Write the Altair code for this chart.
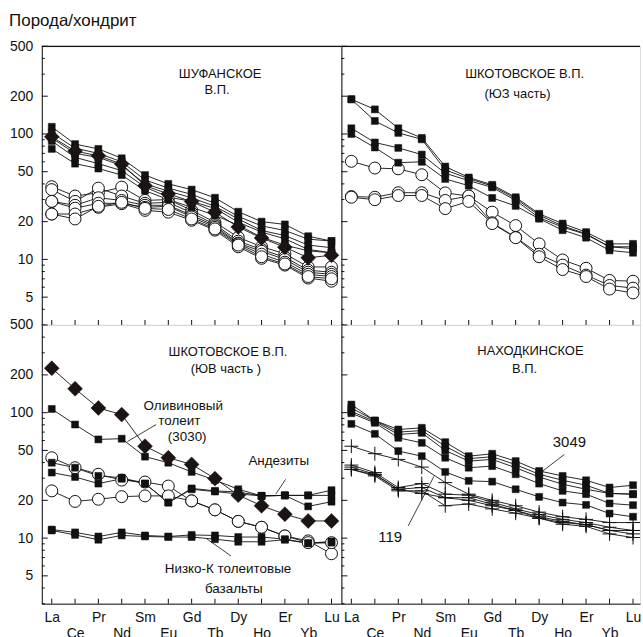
import altair as alt
import pandas as pd

# Rare-earth elements in chondrite-normalised order
REE = ["La", "Ce", "Pr", "Nd", "Sm", "Eu", "Gd", "Tb", "Dy", "Ho", "Er", "Yb", "Lu"]

# --- Шуфанское вулканическое поле ---
shuf_squares = [
    [114, 83, 76, 64, 47, 40, 36, 31, 24, 20, 19, 15.3, 14],
    [102, 77, 70, 60, 43, 37, 33, 28, 22, 18.5, 17, 14.5, 14],
    [93, 70, 65, 56, 40, 35, 31, 26.5, 21, 17, 15.5, 13, 12.4],
    [88, 65, 58, 51, 37.7, 31.4, 29, 25.5, 19.8, 16.5, 14.6, 12, 11.3],
    [76, 58, 53, 47, 35.3, 30, 26, 22.5, 18.7, 15, 13, 11.7, 11.3],
]
shuf_diamond = [95, 73, 67, 57.6, 38.7, 33.3, 28.9, 23.8, 18.1, 14.8, 12.5, 10.3, 10.8]
shuf_circles = [
    [38, 32, 34, 37.7, 29.5, 30, 24.6, 19.8, 15, 12.6, 11.1, 8.7, 8.7],
    [36, 29, 37, 32, 28, 28.5, 23.5, 19, 14, 12, 10.4, 8.2, 7.9],
    [29, 27, 31, 29.5, 27, 27, 22.5, 18.5, 13.5, 11.6, 10, 7.9, 7.6],
    [29, 25.6, 28, 28, 26, 26.5, 21.8, 18, 13.3, 11, 9.5, 7.6, 7.3],
    [23, 23, 26, 27.8, 24.6, 23.8, 20.5, 17.1, 12.6, 10.2, 9, 7.1, 6.7],
    [23, 21, 26.5, 28.5, 25.5, 25, 21, 17.5, 13, 10.5, 9.2, 7.3, 7.0],
]

# --- Шкотовское поле, юго-западная часть ---
shksw_squares = [
    [189, 157, 111, 93, 55, 45, 39.3, 31.3, 23.1, 19.3, 16.5, 13.3, 13.3],
    [189, 127, 102, 90.6, 51.7, 44, 38.5, 30.5, 22.5, 18.5, 16, 12.6, 12.6],
    [111, 85.5, 77.4, 68.5, 48.6, 42.5, 37.5, 29.5, 21.5, 18.1, 15.8, 12.6, 12.2],
    [100, 78, 59, 60, 43.8, 38.7, 30.9, 26.7, 21.1, 17.1, 14.9, 11.8, 11.3],
]
shksw_circles = [
    [60.5, 53.5, 52.7, 47.3, 33.9, 32, 23.8, 18.6, 13.3, 9.9, 8.5, 6.8, 6.7],
    [31.7, 31.3, 34, 34, 29.5, 32, 19.6, 15, 11, 9.0, 7.5, 6.2, 5.9],
    [31.3, 29.9, 32.3, 32.3, 25.4, 29, 19.3, 14.9, 10.5, 8.3, 7.3, 5.8, 5.4],
]

# --- Шкотовское поле, юго-восточная часть ---
shkse_diamond = [226, 155, 109, 96.5, 54, 43.7, 38.7, 29.8, 22, 18.1, 15.5, 13.7, 13.7]
shkse_olivine = [107, 80.4, 61.2, 62, 44.6, 39.9, 33.7, 29.0, 24.5, 21.7, 21.9, 17.9, 19.5]
shkse_andesites = [
    [39.9, 36.4, 31.3, 30.3, 27.2, 19.2, 24.9, 23.8, 23.3, 21.7, 21.9, 21.9, 24.1],
    [33.3, 30.7, 27.2, 29.7, 27.2, 19.2, 24.5, 23.5, 22.5, 21.7, 21.9, 21.9, 21.9],
]
shkse_circles = [
    [43.7, 36.4, 32.3, 29.0, 28.0, 26.0, 19.8, 16.8, 13.6, 12.2, 10.4, 9.5, 7.5],
    [23.8, 19.6, 20.4, 21.4, 21.7, 21.7, 19.8, 16.8, 13.6, 12.2, 10.4, 9.2, 9.2],
]
shkse_lowk = [
    [11.7, 11.1, 10.3, 11.1, 10.5, 10.3, 10.6, 10.5, 10.2, 10.2, 9.8, 9.1, 9.4],
    [11.5, 10.6, 9.7, 10.5, 10.3, 10.2, 10.2, 9.8, 9.35, 9.35, 9.7, 9.1, 9.2],
]

# --- Находкинское поле ---
nakh_squares = [
    [116, 86.5, 73.4, 75.7, 58.2, 45, 47, 41.1, 34.3, 31.3, 28.9, 25.3, 26.4],
    [109, 86.5, 70, 72, 54, 43, 44.5, 38.5, 32.3, 28.9, 26.4, 22.7, 22.4],
    [102.5, 85, 67, 69, 50, 41.1, 42.4, 36.4, 30.7, 26.9, 24.5, 22.7, 22.4],
    [99, 83, 63, 57.5, 43.7, 36.4, 37.5, 32.3, 27.2, 23.8, 22.4, 18.9, 18.3],
    [81.4, 67.8, 49.4, 45, 33.7, 28.6, 28.2, 24.5, 21.3, 19.2, 18.4, 15.7, 14.8],
]
nakh_crosses = [
    [54, 47.1, 42.4, 36.8, 27.7, 22.4, 20, 18.1, 16.1, 14.8, 14.1, 13.3, 13.3],
    [38.2, 33.3, 25.3, 27.2, 22.4, 22, 19.3, 17.1, 15.4, 14.1, 13.3, 12.2, 11.5],
    [36.8, 32.3, 24.5, 25.3, 21.0, 21.0, 18.6, 16.6, 14.8, 13.6, 12.8, 11.5, 11.5],
    [35.3, 31.3, 23.8, 23.8, 18.1, 18.7, 17.1, 15.8, 14.4, 12.9, 12.4, 10.8, 10.1],
    [35.3, 32, 24.5, 22.7, 21, 20, 18.1, 16.6, 14.4, 13.3, 12.8, 11.5, 10.8],
]

# Labels inside panels: (text, element position, value, font size)
notes_shuf = [("ШУФАНСКОЕ", 8.22, 300, 13), ("В.П.", 8.09, 224, 13)]
notes_shksw = [("ШКОТОВСКОЕ В.П.", 8.38, 300, 13), ("(ЮЗ часть)", 8.08, 208, 13)]
notes_shkse = [
    ("ШКОТОВСКОЕ В.П.", 8.56, 305, 13), ("(ЮВ часть )", 8.47, 224, 13),
    ("Оливиновый", 6.64, 113, 13.5), ("толеит", 6.47, 86.5, 13.5), ("(3030)", 6.81, 64, 13.5),
    ("Андезиты", 10.74, 40.9, 13.5),
    ("Низко-К толеитовые", 8.56, 5.69, 13.5), ("базальты", 8.81, 3.94, 13.5),
]
notes_nakh = [
    ("НАХОДКИНСКОЕ", 8.63, 311, 13), ("В.П.", 8.38, 224, 13),
    ("3049", 10.29, 57.8, 15), ("119", 2.65, 10.2, 15),
]

# Leader lines: (x1, y1, x2, y2) in element position / normalised value
leaders_shkse = [(5.48, 80.4, 4.25, 58.9), (11.03, 29.4, 10.61, 22.4), (8.69, 7.2, 7.66, 9.83)]
leaders_nakh = [(10.08, 46.5, 9.14, 34.1), (3.42, 12.5, 4.52, 31.1)]

TICK_VALUES = [3, 4, 5, 6, 7, 8, 9, 10, 20, 30, 40, 50, 60, 70, 80, 90, 100, 200, 300, 400, 500]
LABELED = [5, 10, 20, 50, 100, 200, 500]

FONT = "Liberation Sans"
INK = "#111111"
H = 280
LEFT_W, RIGHT_W = 301, 300
LEFT_X = [0.573, 13.425]
RIGHT_X = [0.576, 13.298]
Y_DOMAIN = [3, 500]

MARKERS = {
    "square": dict(shape="square", size=49, filled=True, fill=INK, stroke=INK, strokeWidth=0.5),
    "diamond": dict(shape="diamond", size=225, filled=True, fill="#1c1412", stroke="#1c1412", strokeWidth=0.5),
    "circle": dict(shape="circle", size=144, filled=True, fill="white", stroke=INK, strokeWidth=1),
    "cross": dict(shape="M-1,0H1M0,-1V1", size=196, filled=False, stroke=INK, strokeWidth=1),
}


def build_rows(groups):
    rows = []
    for kind, series_list, prefix in groups:
        for k, values in enumerate(series_list):
            for i, v in enumerate(values):
                rows.append({"series": f"{prefix}{k}", "kind": kind, "idx": i + 1,
                             "element": REE[i], "value": v})
    return pd.DataFrame(rows)


names_js = "[" + ",".join(f"'{e}'" for e in REE) + "]"
LABEL_EXPR = (f"datum.value % 2 == 1 ? {names_js}[datum.value - 1] "
              f": ['', {names_js}[datum.value - 1]]")


def panel(groups, notes, leaders, left, bottom, top, width, xdomain):
    df = build_rows(groups)
    xs = alt.Scale(domain=xdomain, nice=False, zero=False)
    ys = alt.Scale(type="log", domain=Y_DOMAIN, nice=False)

    if bottom:
        xaxis = alt.Axis(values=list(range(1, 14)), labelExpr=LABEL_EXPR, ticks=False, grid=False,
                         domainColor=INK, domainWidth=1, labelFont=FONT, labelFontSize=14,
                         labelColor=INK, labelPadding=7, labelLineHeight=16, labelFlush=False,
                         labelOverlap=False, title=None, minExtent=0)
    else:
        xaxis = alt.Axis(labels=False, ticks=False, grid=False, domainColor=INK, domainWidth=1,
                         title=None, minExtent=0, maxExtent=0)
    if left:
        yaxis = alt.Axis(values=LABELED, ticks=False, grid=False, domainColor=INK, domainWidth=1,
                         labelFont=FONT, labelFontSize=14, labelColor=INK, labelPadding=9,
                         labelFlush=False, labelOverlap=False, title=None, minExtent=0)
    else:
        yaxis = alt.Axis(labels=False, ticks=False, grid=False, domainColor=INK, domainWidth=1,
                         title=None, minExtent=0, maxExtent=0)

    X = alt.X("idx:Q", scale=xs, axis=xaxis)
    Y = alt.Y("value:Q", scale=ys, axis=yaxis)

    layers = [
        alt.Chart(df).mark_line(color=INK, strokeWidth=0.9).encode(
            x=X, y=Y, detail="series:N", order="idx:Q")
    ]
    for kind in ["circle", "square", "diamond", "cross"]:
        if kind in set(df["kind"]):
            layers.append(
                alt.Chart(df).transform_filter(alt.datum.kind == kind)
                .mark_point(opacity=1, **MARKERS[kind]).encode(x=X, y=Y)
            )

    # inward ticks on the value axis and on the element axis
    ticks = pd.DataFrame({"value": TICK_VALUES,
                          "major": [v in LABELED for v in TICK_VALUES]})
    layers.append(alt.Chart(ticks).transform_filter(alt.datum.major)
                  .mark_rule(color=INK, strokeWidth=1)
                  .encode(y=Y, x=alt.value(0), x2=alt.value(6)))
    layers.append(alt.Chart(ticks).transform_filter(~alt.datum.major)
                  .mark_rule(color=INK, strokeWidth=1)
                  .encode(y=Y, x=alt.value(0), x2=alt.value(3)))
    xt = pd.DataFrame({"idx": list(range(1, 14))})
    layers.append(alt.Chart(xt).mark_rule(color=INK, strokeWidth=1)
                  .encode(x=X, y=alt.value(H), y2=alt.value(H - 5)))
    if top:
        layers.append(alt.Chart(xt.head(1)).mark_rule(color=INK, strokeWidth=1.2)
                      .encode(x=alt.value(0), x2=alt.value(width), y=alt.value(0)))

    nd = pd.DataFrame(notes, columns=["text", "idx", "value", "fs"])
    layers.append(alt.Chart(nd).mark_text(font=FONT, color=INK, align="center", baseline="middle")
                  .encode(x=X, y=Y, text="text:N", size=alt.Size("fs:Q", scale=None, legend=None)))
    if leaders:
        ld = pd.DataFrame(leaders, columns=["idx", "value", "idx2", "value2"])
        layers.append(alt.Chart(ld).mark_rule(color=INK, strokeWidth=0.8)
                      .encode(x=X, y=Y, x2="idx2:Q", y2="value2:Q"))

    return alt.layer(*layers).properties(width=width, height=H)


tl = panel([("square", shuf_squares, "s"), ("diamond", [shuf_diamond], "d"),
            ("circle", shuf_circles, "c")], notes_shuf, [], True, False, True, LEFT_W, LEFT_X)
tr = panel([("square", shksw_squares, "s"), ("circle", shksw_circles, "c")],
           notes_shksw, [], False, False, True, RIGHT_W, RIGHT_X)
bl = panel([("square", [shkse_olivine], "o"), ("square", shkse_andesites, "a"),
            ("square", shkse_lowk, "k"), ("circle", shkse_circles, "c"),
            ("diamond", [shkse_diamond], "d")], notes_shkse, leaders_shkse,
           True, True, False, LEFT_W, LEFT_X)
br = panel([("square", nakh_squares, "s"), ("cross", nakh_crosses, "x")],
           notes_nakh, leaders_nakh, False, True, False, RIGHT_W, RIGHT_X)

# 2 x 2 grid of panels sharing their borders
chart = alt.concat(
    tl, tr, bl, br,
    columns=2,
    spacing=0,
    bounds="flush",
).properties(
    title=alt.TitleParams("Порода/хондрит", anchor="start", font=FONT, fontSize=17,
                          fontWeight="normal", color=INK, offset=9),
    padding={"left": 9, "top": 10, "right": 0, "bottom": 0},
).configure_view(stroke=None).configure(background="white")

chart.save("out.html", embed_options={"renderer": "svg", "actions": False})
